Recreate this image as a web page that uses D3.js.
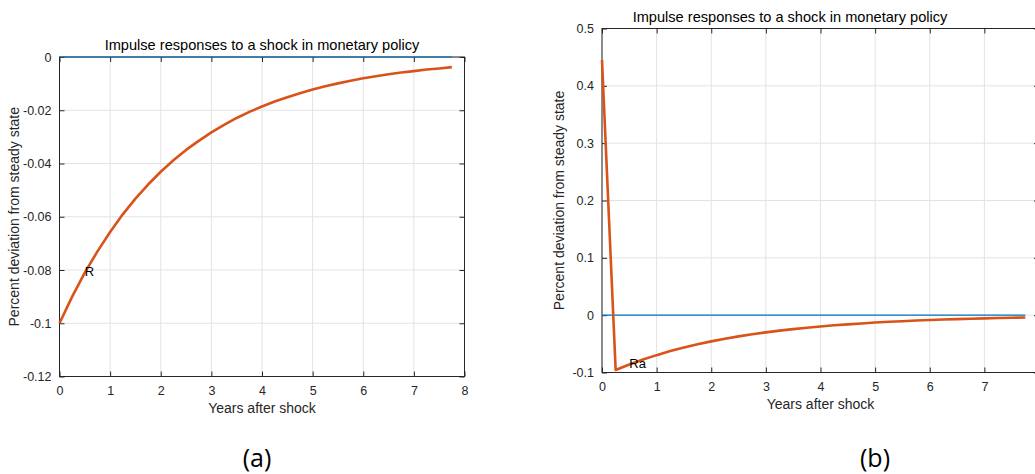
<!DOCTYPE html>
<html>
<head>
<meta charset="utf-8">
<script src="https://cdn.jsdelivr.net/npm/d3@7"></script>
<style>
  html, body { margin: 0; padding: 0; background: #fff; overflow: hidden; }
  svg { display: block; font-family: "Liberation Sans", Arial, sans-serif; }
</style>
</head>
<body>
<svg id="chart" width="1035" height="474"></svg>
<script>
// Quarterly horizon in years (0 .. 7.75)
const years = [0, 0.25, 0.5, 0.75, 1, 1.25, 1.5, 1.75, 2, 2.25, 2.5, 2.75, 3, 3.25, 3.5, 3.75,
               4, 4.25, 4.5, 4.75, 5, 5.25, 5.5, 5.75, 6, 6.25, 6.5, 6.75, 7, 7.25, 7.5, 7.75];

// Response of the policy rate R
const seriesR = [-0.1000, -0.0900, -0.0810, -0.0730, -0.0657, -0.0591, -0.0532, -0.0479,
                 -0.0431, -0.0388, -0.0349, -0.0315, -0.0283, -0.0255, -0.0229, -0.0206,
                 -0.0186, -0.0167, -0.0151, -0.0136, -0.0122, -0.0110, -0.0099, -0.0089,
                 -0.0080, -0.0072, -0.0065, -0.0058, -0.0053, -0.0047, -0.0043, -0.0038];

// Response of the annualised rate Ra
const seriesRa = [0.445, -0.0955, -0.0860, -0.0774, -0.0697, -0.0627, -0.0564, -0.0508,
                  -0.0457, -0.0411, -0.0370, -0.0333, -0.0300, -0.0270, -0.0243, -0.0219,
                  -0.0197, -0.0177, -0.0160, -0.0144, -0.0129, -0.0116, -0.0105, -0.0094,
                  -0.0085, -0.0076, -0.0069, -0.0062, -0.0056, -0.0050, -0.0045, -0.0041];

const xTicksA = [0, 1, 2, 3, 4, 5, 6, 7, 8];
const xTicksB = [0, 1, 2, 3, 4, 5, 6, 7];
const yTicksA = [-0.12, -0.1, -0.08, -0.06, -0.04, -0.02, 0];
const yTicksB = [-0.1, 0, 0.1, 0.2, 0.3, 0.4, 0.5];

const titleText = "Impulse responses to a shock in monetary policy";
const xLabelText = "Years after shock";
const yLabelText = "Percent deviation from steady state";

const svg = d3.select("#chart");
const axisColor = "#262626";
const gridColor = "#e3e3e3";
const lineColor = "#D95319";
const zeroColor = "#0072BD";

function fmt(v) {
  if (v === 0) return "0";
  return String(+v.toFixed(2));
}

function panel(opt) {
  const x = d3.scaleLinear().domain(opt.xDomain).range(opt.xRange);
  const y = d3.scaleLinear().domain(opt.yDomain).range(opt.yRange);
  const g = svg.append("g");
  const [x0, x1] = opt.xRange;
  const [y0, y1] = opt.yRange; // y0 bottom, y1 top

  // grid
  g.append("g").selectAll("line").data(opt.xTicks).join("line")
    .attr("x1", d => x(d)).attr("x2", d => x(d))
    .attr("y1", y0).attr("y2", y1)
    .attr("stroke", gridColor).attr("stroke-width", 1);
  g.append("g").selectAll("line").data(opt.yTicks).join("line")
    .attr("x1", x0).attr("x2", x1)
    .attr("y1", d => y(d)).attr("y2", d => y(d))
    .attr("stroke", gridColor).attr("stroke-width", 1);

  // box
  g.append("rect")
    .attr("x", x0).attr("y", y1)
    .attr("width", x1 - x0).attr("height", y0 - y1)
    .attr("fill", "none").attr("stroke", axisColor).attr("stroke-width", 1);

  // axes with inward ticks on all four sides
  const bottom = d3.axisBottom(x).tickValues(opt.xTicks).tickSizeInner(-5).tickSizeOuter(0)
    .tickPadding(10).tickFormat(d => String(d));
  const gb = g.append("g").attr("transform", `translate(0,${y0})`).call(bottom);
  const top = d3.axisTop(x).tickValues(opt.xTicks).tickSizeInner(-5).tickSizeOuter(0).tickFormat("");
  const gt = g.append("g").attr("transform", `translate(0,${y1})`).call(top);
  const left = d3.axisLeft(y).tickValues(opt.yTicks).tickSizeInner(-5).tickSizeOuter(0)
    .tickPadding(8).tickFormat(fmt);
  const gl = g.append("g").attr("transform", `translate(${x0},0)`).call(left);
  const right = d3.axisRight(y).tickValues(opt.yTicks).tickSizeInner(-5).tickSizeOuter(0).tickFormat("");
  const gr = g.append("g").attr("transform", `translate(${x1},0)`).call(right);
  [gb, gt, gl, gr].forEach(a => {
    a.select(".domain").remove();
    a.selectAll(".tick line").attr("stroke", axisColor);
    a.selectAll(".tick text").attr("fill", axisColor)
      .style("font-size", "12.5px").style("font-family", "Liberation Sans, Arial, sans-serif");
  });

  // zero reference line
  g.append("line")
    .attr("x1", x(years[0])).attr("x2", x(years[years.length - 1]))
    .attr("y1", y(0)).attr("y2", y(0))
    .attr("stroke", zeroColor).attr("stroke-width", 1.2);

  // response curve
  const line = d3.line().x((d, i) => x(years[i])).y(d => y(d));
  g.append("path").datum(opt.series)
    .attr("d", line)
    .attr("fill", "none").attr("stroke", lineColor)
    .attr("stroke-width", 2.6).attr("stroke-linejoin", "round");

  // series name next to the curve
  g.append("text")
    .attr("x", x(years[2])).attr("y", y(opt.series[2]))
    .attr("dominant-baseline", "middle")
    .attr("fill", "#000").style("font-size", "13px")
    .text(opt.name);

  // title and axis labels
  g.append("text").attr("x", opt.titleX).attr("y", y1 - 7)
    .attr("text-anchor", "middle").attr("fill", "#000").style("font-size", "14.6px")
    .text(titleText);
  g.append("text").attr("x", (x0 + x1) / 2).attr("y", y0 + 36)
    .attr("text-anchor", "middle").attr("fill", axisColor).style("font-size", "14px")
    .text(xLabelText);
  g.append("text")
    .attr("transform", `translate(${opt.yLabelX},${(y0 + y1) / 2}) rotate(-90)`)
    .attr("text-anchor", "middle").attr("fill", axisColor).style("font-size", "14px")
    .text(yLabelText);

  // panel caption
  svg.append("text").attr("x", opt.captionX).attr("y", 467)
    .attr("text-anchor", "middle").attr("fill", "#000")
    .style("font-family", "Open Sans, Liberation Sans, sans-serif").style("font-size", "25px")
    .text(opt.caption);
}

panel({
  series: seriesR, name: "R",
  xDomain: [0, 8], xRange: [59.5, 464.5],
  yDomain: [-0.12, 0], yRange: [376.5, 57],
  xTicks: xTicksA, yTicks: yTicksA,
  titleX: 262, yLabelX: 19,
  caption: "(a)", captionX: 257
});

panel({
  series: seriesRa, name: "Ra",
  xDomain: [0, 8], xRange: [602, 1039],
  yDomain: [-0.1, 0.5], yRange: [372.5, 28.5],
  xTicks: xTicksB, yTicks: yTicksB,
  titleX: 790, yLabelX: 564,
  caption: "(b)", captionX: 875
});
</script>
</body>
</html>
